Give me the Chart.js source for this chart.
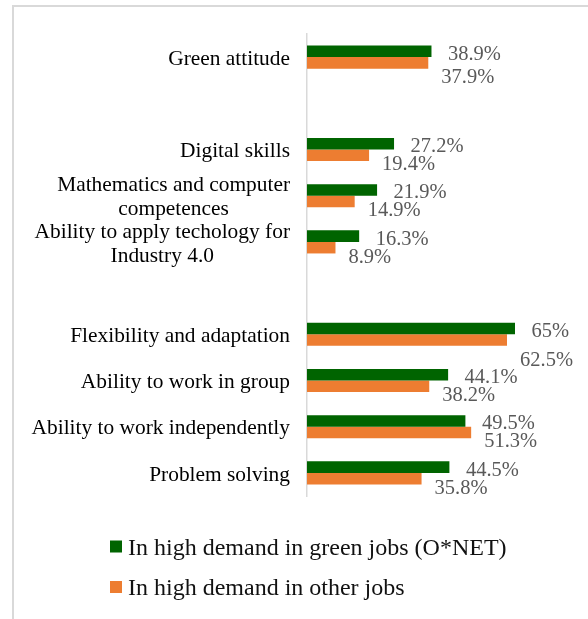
<!DOCTYPE html>
<html>
<head>
<meta charset="utf-8">
<title>Skills in high demand</title>
<script src="https://cdn.jsdelivr.net/npm/chart.js@4.4.1/dist/chart.umd.min.js"></script>
<style>
    body { margin: 0; background: #fff; }
    /* light grey frame, only left and top edges are visible */
    #frame {
        position: absolute; left: 12px; top: 5px; width: 576px; height: 614px;
        border-left: 2px solid #d9d9d9; border-top: 2px solid #d9d9d9;
    }
    canvas { position: absolute; left: 0; top: 0; }
</style>
</head>
<body>
<div id="frame"></div>
<canvas id="myChart" width="588" height="619"></canvas>
<script>
// Categories (empty strings are the gaps between groups)
const categories = [
    'Green attitude',
    '',
    'Digital skills',
    ['Mathematics and computer', 'competences'],
    ['Ability to apply techology for', 'Industry 4.0'],
    '',
    'Flexibility and adaptation',
    'Ability to work in group',
    'Ability to work independently',
    'Problem solving'
];

// Series values (%)
const greenJobs = [38.9, null, 27.2, 21.9, 16.3, null, 65, 44.1, 49.5, 44.5];
const otherJobs = [37.9, null, 19.4, 14.9, 8.9, null, 62.5, 38.2, 51.3, 35.8];

// Series names
const seriesNames = ['In high demand in green jobs (O*NET)', 'In high demand in other jobs'];

const GREEN = '#006400';
const ORANGE = '#ED7D31';
const SERIF = '"Liberation Serif", "Times New Roman", serif';

// Category labels drawn by hand so that wrapped lines are centred within their block
const categoryLabels = {
    id: 'categoryLabels',
    afterDraw(chart) {
        const ctx = chart.ctx;
        const yScale = chart.scales.y;
        const lineH = 24;
        const right = yScale.right - 17;
        ctx.save();
        ctx.font = '21.4px ' + SERIF;
        ctx.fillStyle = '#000';
        ctx.textAlign = 'center';
        ctx.textBaseline = 'middle';
        chart.data.labels.forEach((lab, i) => {
            const lines = Array.isArray(lab) ? lab : [lab];
            if (!lines[0]) return; // gap row
            const w = Math.max(...lines.map(l => ctx.measureText(l).width));
            const cx = right - w / 2;
            const y0 = yScale.getPixelForValue(i) + 2 - (lines.length - 1) * lineH / 2;
            lines.forEach((l, k) => ctx.fillText(l, cx, y0 + k * lineH));
        });
        ctx.restore();
    }
};

// Value labels next to bar ends
const valueLabels = {
    id: 'valueLabels',
    afterDatasetsDraw(chart, args, opts) {
        const ctx = chart.ctx;
        ctx.save();
        ctx.font = '20.5px ' + SERIF;
        ctx.fillStyle = '#595959';
        ctx.textAlign = 'left';
        ctx.textBaseline = 'middle';
        chart.data.datasets.forEach((ds, di) => {
            const meta = chart.getDatasetMeta(di);
            const off = opts.offsets[di];
            meta.data.forEach((bar, i) => {
                const v = ds.data[i];
                if (v == null) return;
                const nudge = opts.nudges[di][i] || 0;
                ctx.fillText(v + '%', bar.x + off.dx, bar.y + off.dy + nudge);
            });
        });
        ctx.restore();
    }
};

// Legend stacked on two rows under the plot
const stackedLegend = {
    id: 'stackedLegend',
    afterDraw(chart) {
        const ctx = chart.ctx;
        ctx.save();
        ctx.font = '24px ' + SERIF;
        ctx.textAlign = 'left';
        ctx.textBaseline = 'middle';
        chart.data.datasets.forEach((ds, i) => {
            const y = 546.5 + i * 40.5;
            ctx.fillStyle = ds.backgroundColor;
            ctx.fillRect(110, y - 6, 12, 12);
            ctx.fillStyle = '#111';
            ctx.fillText(ds.label, 128, y + 2);
        });
        ctx.restore();
    }
};

const ctx = document.getElementById('myChart').getContext('2d');
new Chart(ctx, {
    type: 'bar',
    data: {
        labels: categories,
        datasets: [
            { label: seriesNames[0], data: greenJobs, backgroundColor: GREEN },
            { label: seriesNames[1], data: otherJobs, backgroundColor: ORANGE }
        ]
    },
    options: {
        indexAxis: 'y',
        responsive: false,
        animation: false,
        devicePixelRatio: 1,
        layout: { padding: { left: 0, right: 57, top: 34, bottom: 123 } },
        datasets: {
            bar: { categoryPercentage: 0.5, barPercentage: 1 }
        },
        scales: {
            x: { display: false, min: 0, max: 70 },
            y: {
                grid: { display: false },
                border: { display: true, color: '#d9d9d9', width: 1.5 },
                ticks: { display: false },
                afterFit(scale) { scale.width = 307; } // fixed room for the labels
            }
        },
        plugins: {
            legend: { display: false },
            tooltip: { enabled: false },
            valueLabels: {
                offsets: [{ dx: 16.5, dy: 3 }, { dx: 13, dy: 9.5 }],
                nudges: [[], { 0: 5.5, 6: 11 }]
            }
        }
    },
    plugins: [categoryLabels, valueLabels, stackedLegend]
});
</script>
</body>
</html>
